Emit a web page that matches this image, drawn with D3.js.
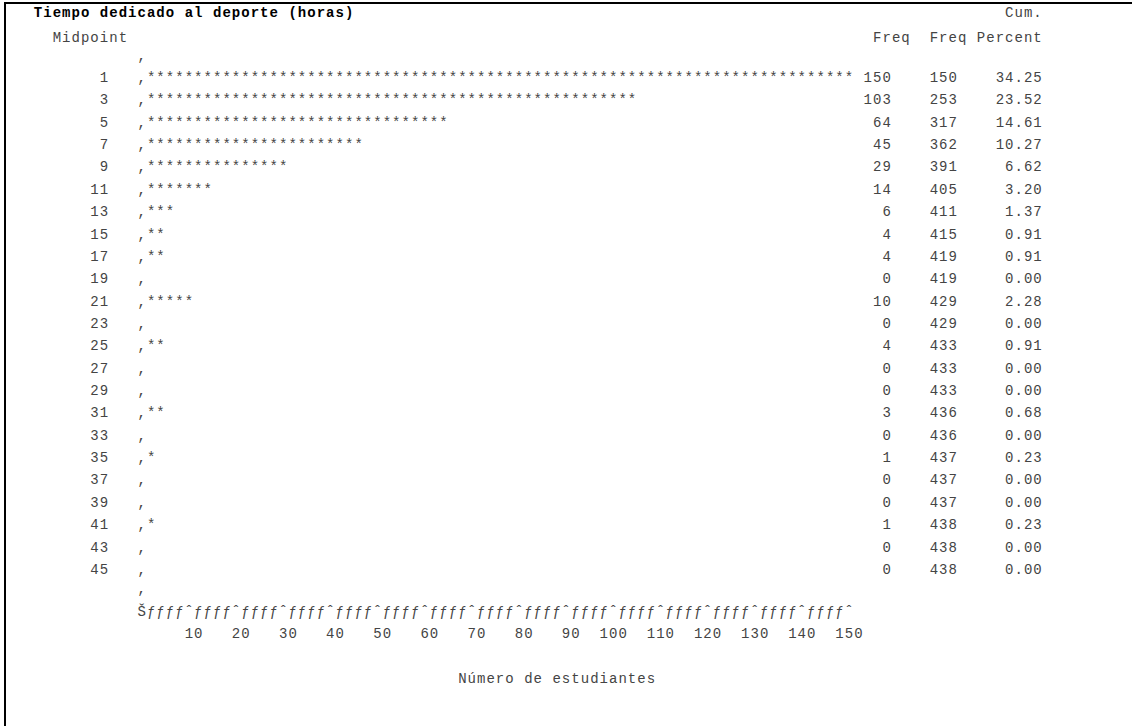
<!DOCTYPE html>
<html>
<head>
<meta charset="utf-8">
<script src="https://cdn.jsdelivr.net/npm/d3@7"></script>
<style>
  body { margin: 0; background: #fff; }
  text { font-family: "Liberation Mono", "DejaVu Sans Mono", monospace; font-size: 14px; fill: #444; }
  text.title { font-weight: bold; fill: #000; }
</style>
</head>
<body>
<div id="chart"></div>
<script>
const midpoints = [1, 3, 5, 7, 9, 11, 13, 15, 17, 19, 21, 23, 25, 27, 29, 31, 33, 35, 37, 39, 41, 43, 45];
const freq      = [150, 103, 64, 45, 29, 14, 6, 4, 4, 0, 10, 0, 4, 0, 0, 3, 0, 1, 0, 0, 1, 0, 0];
const cumFreq   = [150, 253, 317, 362, 391, 405, 411, 415, 419, 419, 429, 429, 433, 433, 433, 436, 436, 437, 437, 437, 438, 438, 438];
const percent   = [34.25, 23.52, 14.61, 10.27, 6.62, 3.20, 1.37, 0.91, 0.91, 0.00, 2.28, 0.00, 0.91, 0.00, 0.00, 0.68, 0.00, 0.23, 0.00, 0.00, 0.23, 0.00, 0.00];
const tickValues = [10, 20, 30, 40, 50, 60, 70, 80, 90, 100, 110, 120, 130, 140, 150];

const title = "Tiempo dedicado al deporte (horas)";
const xLabel = "Número de estudiantes";

let width = 1132,
    height = 726;

const svg = d3.select("#chart")
  .append("svg")
  .attr("width", width)
  .attr("height", height);

// border (only top and left show in the listing)
svg.append("line").attr("x1", 4).attr("x2", width).attr("y1", 3).attr("y2", 3)
  .attr("stroke", "#000").attr("stroke-width", 2);
svg.append("line").attr("x1", 5).attr("x2", 5).attr("y1", 2).attr("y2", height)
  .attr("stroke", "#000").attr("stroke-width", 2);

// listing grid: one column per character, one row per output line
let col = d3.scaleLinear().domain([0, 1]).range([137, 137 + 9.43]);
let row = d3.scaleLinear().domain([0, 1]).range([10, 10 + 22.36]);
// students -> number of chart columns (2 students per star)
let x = d3.scaleLinear().domain([0, 150]).range([0, 75]);

function put(str, c, l, cls) {
  svg.append("g")
    .selectAll("text")
    .data(Array.from(str))
    .join("text")
    .attr("class", cls || null)
    .attr("x", (d, i) => col(c + i + 0.5))
    .attr("y", row(l))
    .attr("dy", "0.35em")
    .attr("text-anchor", "middle")
    .text(d => d);
}
function putRight(str, endCol, l, cls) {
  put(str, endCol - str.length + 1, l, cls);
}

// header
put(title, -11, 0.1, "title");
put("Midpoint", -9, 1.2);
putRight("Cum.", 95, 0.1);
put("Freq", 78, 1.2);
put("Freq", 84, 1.2);
put("Percent", 89, 1.2);

put(",", 0, 2);

let fmt = d3.format(".2f");
midpoints.forEach((m, i) => {
  let l = i + 3;
  putRight(String(m), -4, l);
  let n = Math.round(x(freq[i]));
  put("," + "*".repeat(n), 0, l);
  putRight(String(freq[i]), 79, l);
  putRight(String(cumFreq[i]), 86, l);
  putRight(fmt(percent[i]), 95, l);
});

// footer lines sit a touch closer together
let lastLine = midpoints.length + 3 - 0.13;
put(",", 0, lastLine);

// axis line
let axisChars = d3.range(0, Math.round(x(150)) + 1).map(c => c === 0 ? "Š" : "ƒ");
tickValues.forEach(t => { axisChars[Math.round(x(t))] = "ˆ"; });
put(axisChars.join(""), 0, lastLine + 1);

tickValues.forEach(t => {
  putRight(String(t), Math.round(x(t)) + 1, lastLine + 2);
});

put(xLabel, 34, lastLine + 4);
</script>
</body>
</html>
